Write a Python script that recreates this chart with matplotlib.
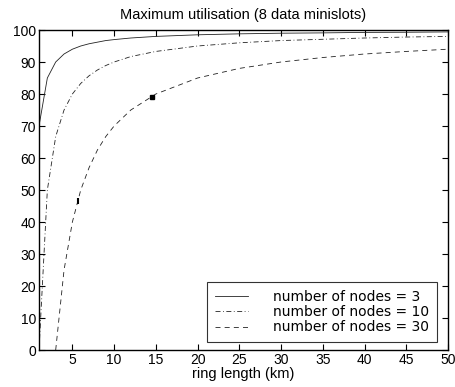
import matplotlib
matplotlib.use("Agg")
import matplotlib.pyplot as plt

plt.rcParams['font.family'] = ['Liberation Sans', 'DejaVu Sans']

# data
x3 = [1, 2, 3, 4, 5, 6, 7, 8, 9, 10, 12, 15, 20, 25, 30, 35, 40, 45, 50]
y3 = [70, 85, 90, 92.5, 94, 95, 95.7, 96.2, 96.7, 97, 97.5, 98, 98.5, 98.8, 99, 99.1, 99.25, 99.3, 99.4]

x10 = [1, 2, 3, 4, 5, 6, 7, 8, 9, 10, 12, 15, 20, 25, 30, 35, 40, 45, 50]
y10 = [0, 50, 66.7, 75, 80, 83.3, 85.7, 87.5, 88.9, 90, 91.7, 93.3, 95, 96, 96.7, 97.1, 97.5, 97.8, 98]

x30 = [3, 4, 5, 6, 7, 8, 9, 10, 12, 15, 20, 25, 30, 35, 40, 45, 50]
y30 = [0, 25, 40, 50, 57, 62.5, 66.7, 70, 75, 80, 85, 88, 90, 91.4, 92.5, 93.3, 94]

mark_x = [14.5, 5.7]
mark_y = [79, 46.5]

labels = ['number of nodes = 3', 'number of nodes = 10', 'number of nodes = 30']
xticks = [5, 10, 15, 20, 25, 30, 35, 40, 45, 50]
yticks = [0, 10, 20, 30, 40, 50, 60, 70, 80, 90, 100]

fig = plt.figure(figsize=(4.56, 3.87), dpi=100)
ax = fig.add_axes([39/456, 1-350/387, (448-39)/456, 320/387])

ax.plot(x3, y3, color='#222222', lw=0.6, ls='-', label=labels[0])
ax.plot(x10, y10, color='#222222', lw=0.6, ls=(0, (6, 3, 1, 3)), label=labels[1])
ax.plot(x30, y30, color='#222222', lw=0.6, ls=(0, (6, 5)), label=labels[2])
ax.plot(mark_x[:1], mark_y[:1], ls='none', marker='s', ms=2.5, color='black')
ax.plot(mark_x[1:], mark_y[1:], ls='none', marker='|', ms=5, mew=1.5, color='black')

ax.set_xlim(1, 50)
ax.set_ylim(0, 100)
ax.set_xticks(xticks)
ax.set_yticks(yticks)
ax.tick_params(direction='in', top=True, right=True, length=4, width=0.8, labelsize=10, pad=2)
for s in ax.spines.values():
    s.set_linewidth(1.0)

ax.set_title('Maximum utilisation (8 data minislots)', fontsize=10.5, pad=8)
ax.set_xlabel('ring length (km)', fontsize=10.5, labelpad=0)

leg = ax.legend(loc='lower right', bbox_to_anchor=(0.973, 0.025), borderaxespad=0,
                prop={'family': 'DejaVu Sans', 'size': 10},
                frameon=True, fancybox=False, edgecolor='black',
                handlelength=2.4, handletextpad=1.8, labelspacing=0.1,
                borderpad=0.55)
leg.get_frame().set_linewidth(0.8)

fig.savefig('out.png', dpi=100)
